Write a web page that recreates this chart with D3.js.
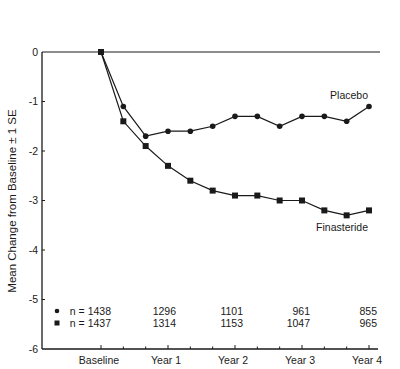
<!DOCTYPE html>
<html><head><meta charset="utf-8">
<script src="https://cdn.jsdelivr.net/npm/d3@7"></script>
<style>body{margin:0;background:#fff}svg{display:block}text{font-family:"Liberation Sans",Arial,sans-serif;fill:#1a1a1a}</style>
</head><body><svg id="c" width="400" height="369"></svg>
<script>
const months = [0,4,8,12,16,20,24,28,32,36,40,44,48];
const placebo = [0,-1.1,-1.7,-1.6,-1.6,-1.5,-1.3,-1.3,-1.5,-1.3,-1.3,-1.4,-1.1];
const finasteride = [0,-1.4,-1.9,-2.3,-2.6,-2.8,-2.9,-2.9,-3.0,-3.0,-3.2,-3.3,-3.2];
const yTicks = [0,-1,-2,-3,-4,-5,-6];
const xLabelMonths = [0,12,24,36,48];
const xLabels = ["Baseline","Year 1","Year 2","Year 3","Year 4"];
const nPlacebo = [1438,1296,1101,961,855];
const nFinasteride = [1437,1314,1153,1047,965];

const svg = d3.select("#c");
const x = d3.scaleLinear().domain([0,48]).range([101,369]);
const y = d3.scaleLinear().domain([-6,0]).range([349,52]);
const ink = "#1a1a1a";

// axes lines
svg.append("line").attr("x1",42).attr("x2",42).attr("y1",y(0)).attr("y2",y(-6)).attr("stroke",ink).attr("stroke-width",1.3);
svg.append("line").attr("x1",42).attr("x2",378).attr("y1",y(-6)).attr("y2",y(-6)).attr("stroke",ink).attr("stroke-width",1.3);
svg.append("line").attr("x1",42).attr("x2",380).attr("y1",y(0)).attr("y2",y(0)).attr("stroke",ink).attr("stroke-width",1.1);

// y ticks
const yg = svg.append("g");
yTicks.forEach(v=>{
  if(v!==0 && v!==-6) yg.append("line").attr("x1",42).attr("x2",45).attr("y1",y(v)).attr("y2",y(v)).attr("stroke",ink);
  yg.append("text").attr("x",38).attr("y",y(v)).attr("dy","0.35em").attr("text-anchor","end").attr("font-size",10.5).text(v===0?"0":String(v));
});

// x ticks
months.forEach(m=>{
  const big = m%12===0;
  svg.append("line").attr("x1",x(m)).attr("x2",x(m)).attr("y1",y(-6)).attr("y2",y(-6)-(big?4:2.5)).attr("stroke",ink);
});
xLabelMonths.forEach((m,i)=>{
  svg.append("text").attr("x",x(m)-2).attr("y",364).attr("text-anchor","middle").attr("font-size",10.5).text(xLabels[i]);
});

// y title
svg.append("text").attr("transform","translate(16,201) rotate(-90)").attr("text-anchor","middle").attr("font-size",11.5).text("Mean Change from Baseline \u00B1 1 SE");

// lines
const line = d3.line().x((d,i)=>x(months[i])).y(d=>y(d));
svg.append("path").datum(placebo).attr("d",line).attr("fill","none").attr("stroke",ink).attr("stroke-width",1.2);
svg.append("path").datum(finasteride).attr("d",line).attr("fill","none").attr("stroke",ink).attr("stroke-width",1.2);
svg.selectAll(".pc").data(placebo).enter().append("circle").attr("cx",(d,i)=>x(months[i])).attr("cy",d=>y(d)).attr("r",2.8).attr("fill",ink);
svg.selectAll(".fs").data(finasteride).enter().append("rect").attr("x",(d,i)=>x(months[i])-3).attr("y",d=>y(d)-3).attr("width",6).attr("height",6).attr("fill",ink);

// series labels
svg.append("text").attr("x",368).attr("y",99).attr("text-anchor","end").attr("font-size",10.5).text("Placebo");
svg.append("text").attr("x",368).attr("y",231).attr("text-anchor","end").attr("font-size",10.5).text("Finasteride");

// n rows
const rows = [{vals:nPlacebo,y:311,sym:"c"},{vals:nFinasteride,y:323,sym:"s"}];
rows.forEach(r=>{
  if(r.sym==="c") svg.append("circle").attr("cx",57).attr("cy",r.y).attr("r",2.3).attr("fill",ink);
  else svg.append("rect").attr("x",54.5).attr("y",r.y-2.5).attr("width",5).attr("height",5).attr("fill",ink);
  r.vals.forEach((v,i)=>{
    svg.append("text").attr("x",x(xLabelMonths[i])+(i===0?10:8)).attr("y",r.y).attr("dy","0.35em").attr("text-anchor","end").attr("font-size",10.5).text(i===0?"n = "+v:String(v));
  });
});
</script></body></html>
